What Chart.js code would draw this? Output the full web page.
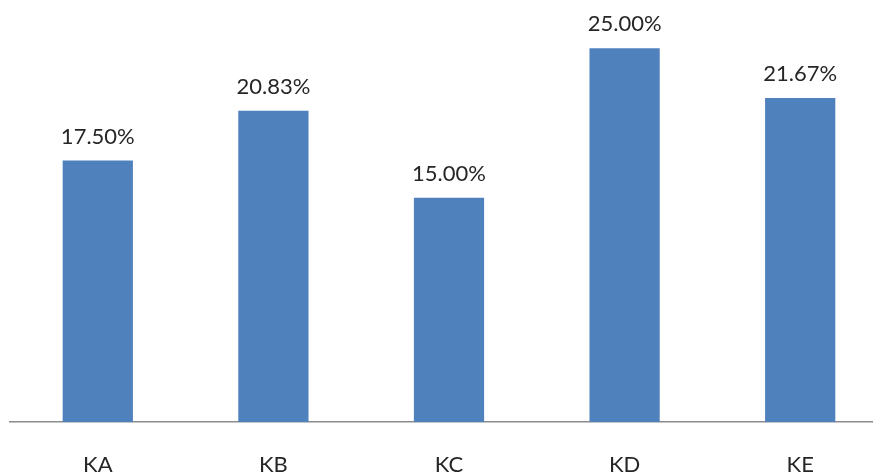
<!DOCTYPE html>
<html>
<head>
<meta charset="utf-8">
<script src="https://cdn.jsdelivr.net/npm/chart.js@4.4.1/dist/chart.umd.min.js"></script>
<style>
  html, body { margin: 0; padding: 0; background: #fff; overflow: hidden; }
  #wrap { width: 888px; height: 474px; position: relative; }
</style>
</head>
<body>
<div id="wrap"><canvas id="barChart"></canvas></div>
<script>
// Chart data
const categories = ["KA", "KB", "KC", "KD", "KE"];
const percentValues = [17.50, 20.83, 15.00, 25.00, 21.67];

const FONT = "Lato, 'Open Sans', sans-serif";

// draw the value above each bar
const valueLabels = {
    id: 'valueLabels',
    afterDatasetsDraw(chart) {
        const ctx = chart.ctx;
        const meta = chart.getDatasetMeta(0);
        ctx.save();
        ctx.font = "22px " + FONT;
        ctx.fillStyle = "#262626";
        ctx.textAlign = "center";
        ctx.textBaseline = "middle";
        meta.data.forEach((bar, i) => {
            ctx.fillText(percentValues[i].toFixed(2) + "%", bar.x, bar.y - 24);
        });
        ctx.restore();
    }
};

let ctx = document.getElementById('barChart').getContext('2d');
let barChart = new Chart(ctx, {
    type: 'bar',
    data: {
        labels: categories,
        datasets: [{
            data: percentValues,
            backgroundColor: '#4F81BD',
            borderWidth: 0,
            categoryPercentage: 1,
            barPercentage: 0.4
        }]
    },
    options: {
        responsive: true,
        maintainAspectRatio: false,
        animation: false,
        layout: { padding: { left: 10, top: 3.5, right: 0, bottom: 0 } },
        plugins: {
            legend: { display: false },
            tooltip: { enabled: false }
        },
        scales: {
            x: {
                grid: { display: false, drawTicks: false },
                border: { display: true, color: '#8c8c8c', width: 1.5 },
                ticks: { color: '#262626', font: { family: FONT, size: 22 }, padding: 30 },
                afterFit: (scale) => { scale.height = 52; }
            },
            y: {
                display: false,
                min: 0,
                max: 28
            }
        }
    },
    plugins: [valueLabels]
});
</script>
</body>
</html>
